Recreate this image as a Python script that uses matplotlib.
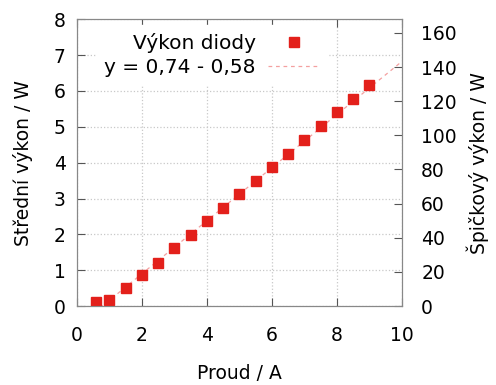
import numpy as np
import matplotlib
matplotlib.use("Agg")
import matplotlib.pyplot as plt

# measured data (current / A, mean power / W)
proud = [0.6, 1.0, 1.5, 2.0, 2.5, 3.0, 3.5, 4.0, 4.5, 5.0, 5.5, 6.0, 6.5, 7.0, 7.5, 8.0, 8.5, 9.0]
vykon = [0.12, 0.18, 0.51, 0.86, 1.21, 1.61, 1.97, 2.37, 2.73, 3.12, 3.49, 3.88, 4.24, 4.62, 5.01, 5.41, 5.78, 6.17]

# linear fit y = a*x + b
fit_a = 0.74
fit_b = -0.58
fit_x = [0.0, 10.0]

plt.rcParams["font.family"] = ["DejaVu Sans"]
plt.rcParams["font.size"] = 13.5

fig, ax = plt.subplots(figsize=(4.96, 3.85), dpi=100)
fig.subplots_adjust(left=0.155, right=0.81, bottom=0.205, top=0.95)

ax.plot(proud, vykon, "s", color="#e3201b", markersize=7, label="Výkon diody", zorder=3)
fx = np.array(fit_x)
ax.plot(fx, fit_a * fx + fit_b, "--", color="#f4a0a0", lw=0.9,
        dashes=(3, 3), label="y = 0,74 - 0,58", zorder=2)

ax.set_xlim(0, 10)
ax.set_ylim(0, 8)
ax.set_xticks(range(0, 11, 2))
ax.set_yticks(range(0, 9))
ax.set_xlabel("Proud / A", labelpad=14)
ax.set_ylabel("Střední výkon / W", labelpad=15)
ax.grid(True, color="#c8c8c8", linestyle=":", lw=0.9)
ax.tick_params(direction="in", top=True, length=6, color="#555555")
ax.tick_params(axis="x", pad=14)
ax.tick_params(axis="y", pad=8)
for s in ax.spines.values():
    s.set_color("#888888")

ax2 = ax.twinx()
ax2.set_ylim(0, 168)
ax2.set_yticks(range(0, 161, 20))
ax2.tick_params(direction="in", length=6, color="#555555", pad=14)
ax2.set_ylabel("Špičkový výkon / W", labelpad=7)
for s in ax2.spines.values():
    s.set_color("#888888")

leg = ax.legend(loc="upper left", bbox_to_anchor=(0.06, 0.98), markerfirst=False,
                frameon=True, fancybox=False, edgecolor="white", framealpha=1,
                borderaxespad=0.0, handlelength=2.6, handletextpad=0.6,
                labelspacing=0.25, fontsize=14.5, alignment="right")
leg.set_zorder(5)

fig.savefig("out.png", dpi=100)
